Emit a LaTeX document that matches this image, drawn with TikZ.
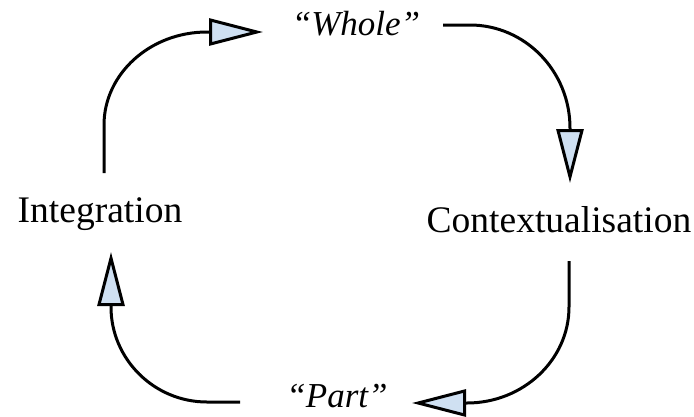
\documentclass[tikz,border=0pt]{standalone}
\usepackage{fontspec}
\setmainfont{Liberation Serif}
\usetikzlibrary{arrows.meta}
\definecolor{tipblue}{HTML}{CFE0F2}
\tikzset{
  lbl/.style={anchor=base, inner sep=0pt, font=\fontsize{37.5}{42}\selectfont},
  ilbl/.style={lbl, font=\fontsize{35}{40}\selectfont\itshape},
  flow/.style={line width=3pt, line join=miter,
    -{Triangle[length=54pt,width=27pt,fill=tipblue]}}
}
\begin{document}
\begin{tikzpicture}[x=1pt,y=-1pt]
\useasboundingbox (0,0) rectangle (694,416);
\node[ilbl] (whole) at (356,35) {“Whole”};
\node[lbl] (integ) at (100,222) {Integration};
\node[lbl] (context) at (559,232) {Contextualisation};
\node[ilbl] (part) at (337,407) {“Part”};
\coordinate (a1s) at (104,173);
\coordinate (a1e) at (263,32);
\coordinate (a2s) at (443,25);
\coordinate (a2e) at (570,183);
\coordinate (a3s) at (569,261);
\coordinate (a3e) at (412,403);
\coordinate (a4s) at (240,402);
\coordinate (a4e) at (111,252);
\draw[flow] (a1s) -- (104,125) .. controls (104,74) and (150,32) .. (207,32) -- (a1e);
\draw[flow] (a2s) -- (470,25) .. controls (525,25) and (570,71) .. (570,128) -- (a2e);
\draw[flow] (a3s) -- (569,307) .. controls (569,360) and (523,403) .. (467,403) -- (a3e);
\draw[flow] (a4s) -- (207,402) .. controls (154,402) and (111,359) .. (111,307) -- (a4e);
\end{tikzpicture}
\end{document}
